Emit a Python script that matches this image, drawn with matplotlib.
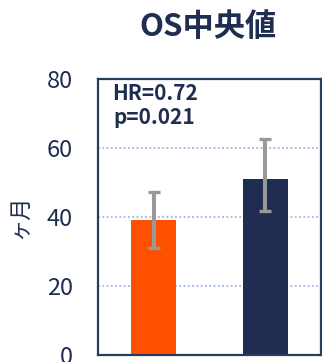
import matplotlib
matplotlib.use("Agg")
import matplotlib.pyplot as plt
import numpy as np

plt.rcParams['font.family'] = ['Noto Sans CJK JP', 'DejaVu Sans']

# Median OS (months) with 95% CI bounds
groups = ["対照群", "治療群"]
medians = [39.0, 51.0]
ci_lower = [31.1, 41.8]
ci_upper = [47.3, 62.6]
bar_colors = ["#ff5000", "#202d52"]
yticks = [0, 20, 40, 60, 80]

navy = "#1f2d50"

fig = plt.figure(figsize=(3.22, 3.62), dpi=100)
ax = fig.add_axes([98 / 322, 7 / 362, 223 / 322, 276 / 362])

x = np.arange(len(groups))
med = np.array(medians)
yerr = np.vstack([med - np.array(ci_lower), np.array(ci_upper) - med])

ax.bar(x, med, width=0.4, color=bar_colors, zorder=2)
ax.errorbar(x, med, yerr=yerr, fmt="none", ecolor="#999999",
            elinewidth=2.9, capsize=4.3, capthick=2.4, zorder=3)

ax.set_xlim(-0.5, 1.5)
ax.set_ylim(0, 80)
ax.set_yticks(yticks)
ax.set_yticklabels([str(t) for t in yticks])
ax.set_xticks([])
ax.tick_params(axis="y", length=0, pad=18, labelsize=17, labelcolor=navy)

for s in ax.spines.values():
    s.set_color("#2b3a5f")
    s.set_linewidth(1.6)

for t in yticks[1:-1]:
    ax.axhline(t, color="#a9bfe6", linestyle=(0, (1, 1.2)), linewidth=1.4, zorder=1)

ax.text(0.063, 0.924, "HR=0.72", transform=ax.transAxes, fontsize=15,
        fontweight="bold", color=navy, va="baseline", ha="left")
ax.text(0.068, 0.837, "p=0.021", transform=ax.transAxes, fontsize=15,
        fontweight="bold", color=navy, va="baseline", ha="left")

fig.text(208 / 322, 1 - 27 / 362, "OS中央値", fontsize=22.5, fontweight="bold",
         color=navy, ha="center", va="center")
fig.text(20 / 322, 1 - 217 / 362, "ヶ月", fontsize=16, color=navy,
         rotation=90, ha="center", va="center")

fig.savefig("out.png", dpi=100)
